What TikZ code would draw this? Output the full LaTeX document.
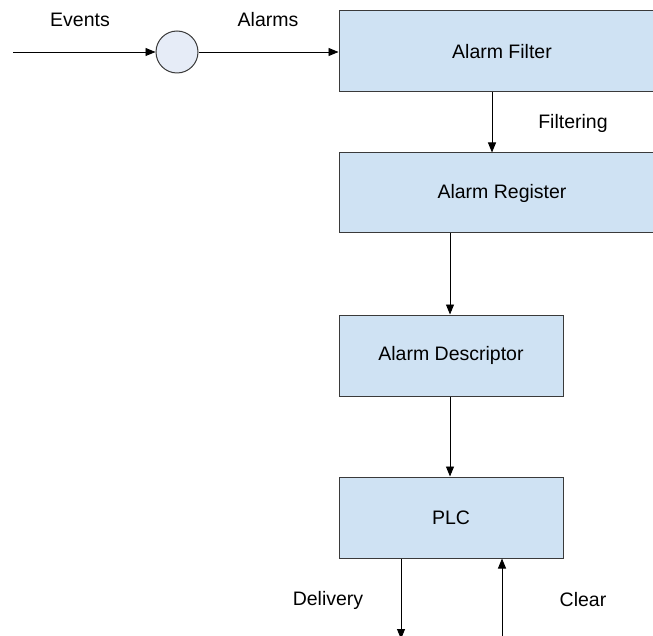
\documentclass[tikz,border=0pt]{standalone}
\usepackage{fontspec}
\setmainfont{Liberation Sans}
\usetikzlibrary{arrows.meta}
\definecolor{boxfill}{HTML}{CFE2F3}
\definecolor{circfill}{HTML}{E6ECF7}
\definecolor{boxline}{HTML}{3A3A3A}
\begin{document}
\begin{tikzpicture}[x=1pt,y=-1pt,
  every node/.style={font=\fontsize{19.5}{22}\selectfont},
  blk/.style={draw=boxline, fill=boxfill, line width=1pt, inner sep=0pt},
  lbl/.style={inner sep=0pt},
  arr/.style={draw=black, line width=0.9pt, -{Triangle[length=10pt,width=8pt]}}]
\useasboundingbox (0,0) rectangle (653,636);
\clip (0,0) rectangle (653,636);
% nodes
\node[blk, minimum width=326pt, minimum height=81pt] (filter) at (502,51.5) {};
\node[lbl] at (502,52) {Alarm Filter};
\node[blk, minimum width=326pt, minimum height=80pt] (register) at (502,193) {};
\node[lbl] at (502,193) {Alarm Register};
\node[blk, minimum width=224pt, minimum height=81pt] (descr) at (451,355.5) {Alarm Descriptor};
\node[blk, minimum width=224pt, minimum height=81pt] (plc) at (451,517.5) {PLC};
\node[draw=boxline, fill=circfill, line width=1pt, circle, minimum size=42pt, inner sep=0pt] (circ) at (177,52) {};
% labels
\node[lbl] (events) at (80,20) {Events};
\node[lbl] (alarms) at (268,20) {Alarms};
\node[lbl] (filtering) at (573,123) {Filtering};
\node[lbl] (delivery) at (328,600) {Delivery};
\node[lbl] (clear) at (583,600) {Clear};
% helper coordinates
\coordinate (start) at (13,52);
\coordinate (xa) at (492,0);
\coordinate (xb) at (450,0);
\coordinate (xd) at (401,0);
\coordinate (xc) at (502,0);
\coordinate (dend) at (401,639);
\coordinate (cstart) at (502,640);
% connectors
\draw[arr] (start) -- (circ.west);
\draw[arr] (circ.east) -- (filter.west |- circ.east);
\draw[arr] (filter.south -| xa) -- (register.north -| xa);
\draw[arr] (register.south -| xb) -- (descr.north -| xb);
\draw[arr] (descr.south -| xb) -- (plc.north -| xb);
\draw[arr] (plc.south -| xd) -- (dend);
\draw[arr] (cstart) -- (plc.south -| xc);
\end{tikzpicture}
\end{document}
